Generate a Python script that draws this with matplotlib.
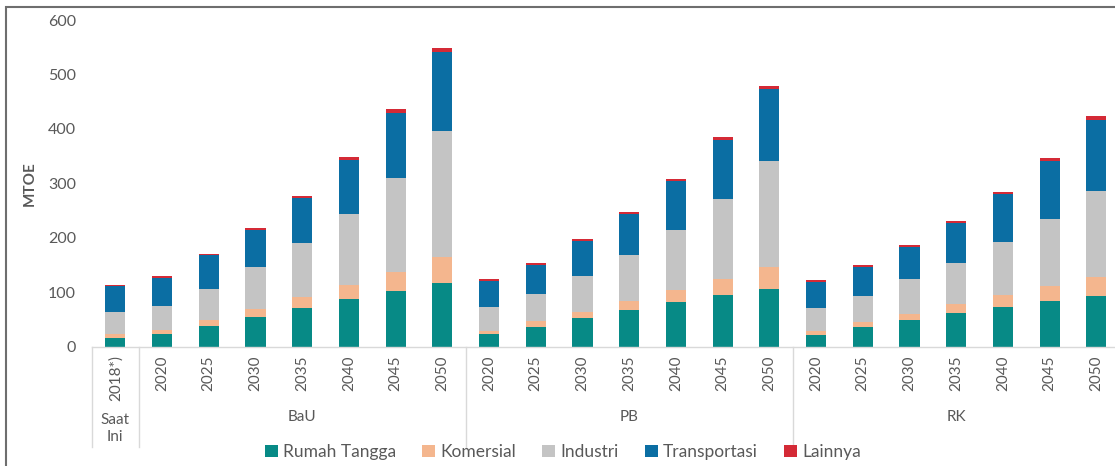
import numpy as np
import matplotlib
matplotlib.use("Agg")
import matplotlib.pyplot as plt
import matplotlib.transforms as mtransforms
from matplotlib.patches import Rectangle

plt.rcParams['font.family'] = ['Lato', 'DejaVu Sans']

# data (MTOE)
tahun = ["2018*)",
         "2020", "2025", "2030", "2035", "2040", "2045", "2050",
         "2020", "2025", "2030", "2035", "2040", "2045", "2050",
         "2020", "2025", "2030", "2035", "2040", "2045", "2050"]
kelompok = ["Saat\nIni", "BaU", "PB", "RK"]
kelompok_idx = [(0, 0), (1, 7), (8, 14), (15, 21)]

rumah_tangga = [17, 23, 39, 55, 71, 88, 103, 118, 23, 37, 53, 67, 82, 95, 107, 22, 36, 50, 62, 74, 84, 94]
komersial = [7, 8, 11, 14, 20, 25, 35, 48, 7, 10, 12, 17, 22, 30, 40, 7, 9, 11, 16, 21, 28, 35]
industri = [41, 45, 57, 77, 99, 131, 173, 230, 43, 50, 65, 84, 111, 146, 194, 43, 49, 63, 77, 98, 123, 157]
transportasi = [47, 50, 61, 69, 83, 100, 119, 146, 48, 54, 65, 76, 89, 108, 132, 48, 53, 60, 72, 87, 106, 131]
lainnya = [2.5, 4, 3, 4, 4, 5, 6, 6, 3, 4, 3, 4, 5, 6, 6, 3, 4, 4, 4, 5, 6, 6]

seri = [("Rumah Tangga", rumah_tangga, "#078A86"),
        ("Komersial", komersial, "#F4B68E"),
        ("Industri", industri, "#C4C4C4"),
        ("Transportasi", transportasi, "#0B6EA3"),
        ("Lainnya", lainnya, "#D42A36")]

W, H = 1115, 466
fig = plt.figure(figsize=(W / 100, H / 100), dpi=100)
ax = fig.add_axes([92 / W, 1 - 347 / H, (1115 - 92) / W, 327 / H])

x = np.arange(len(tahun))
bawah = np.zeros(len(tahun))
for nama, nilai, warna in seri:
    ax.bar(x, nilai, bottom=bawah, width=0.43, color=warna, label=nama)
    bawah += np.array(nilai)

ax.set_xlim(-0.5, 21.4)
ax.set_ylim(0, 600)
ax.set_yticks(range(0, 601, 100))
ax.tick_params(axis='y', length=0, pad=11.5, labelsize=11.5, labelcolor="#595959")
ax.set_xticks(x)
ax.set_xticklabels(tahun, rotation=90, fontsize=11, color="#595959")
ax.tick_params(axis='x', length=0, pad=6)
for s in ["top", "right", "left"]:
    ax.spines[s].set_visible(False)
ax.spines["bottom"].set_color("#D9D9D9")
ax.spines["bottom"].set_linewidth(1)

ax.set_ylabel("MTOE", fontsize=11, fontweight="bold", color="#595959", labelpad=8)

trans = mtransforms.blended_transform_factory(ax.transData, ax.transAxes)
# group separators below the axis
for sx in [-0.5, 0.5, 7.5, 14.5]:
    ax.plot([sx, sx], [0, -0.306], transform=trans, color="#D9D9D9", lw=1, clip_on=False)
for nama, (a, b) in zip(kelompok, kelompok_idx):
    yy = -0.25 if "\n" in nama else -0.214
    ax.text((a + b) / 2, yy, nama, transform=trans, ha="center", va="center",
            fontsize=11, color="#595959", linespacing=1.3)

fig.legend(loc="center", bbox_to_anchor=(563 / W, 1 - 452 / H), ncol=5, frameon=False,
           fontsize=12.5, handlelength=0.75, handleheight=0.75, handletextpad=0.3,
           columnspacing=1.5, labelcolor="#595959")

# outer frame of the original image
fig.patches.append(Rectangle((6 / W, -0.1), 2, 1 - 7 / H + 0.1, transform=fig.transFigure,
                             fill=False, edgecolor="#6E6E6E", lw=1.5))

fig.savefig("out.png", dpi=100)
